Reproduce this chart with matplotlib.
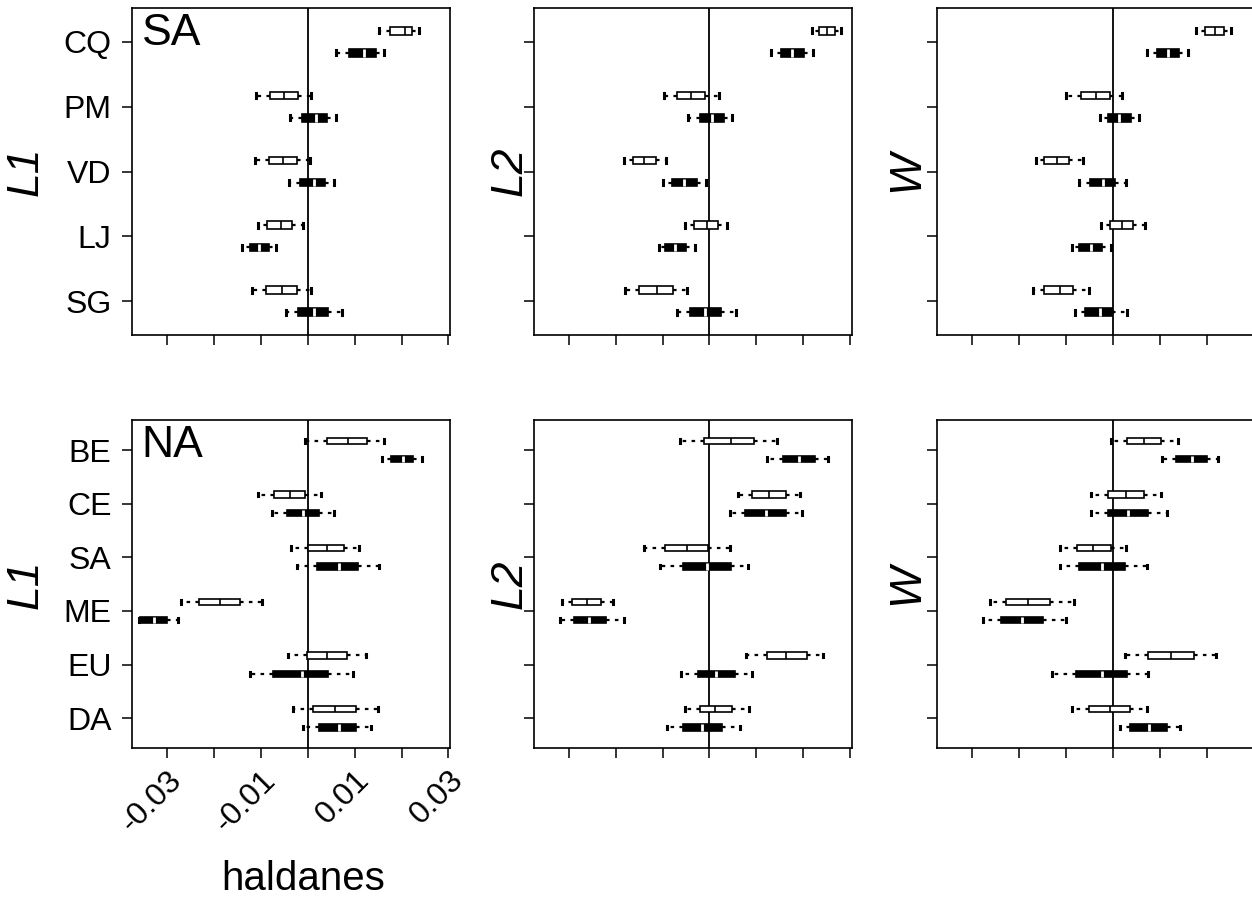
import numpy as np
import matplotlib.pyplot as plt

plt.rcParams['font.family'] = ['Liberation Sans', 'DejaVu Sans']

sa_sites = ["CQ", "PM", "VD", "LJ", "SG"]
na_sites = ["BE", "CE", "SA", "ME", "EU", "DA"]

# per site: lower whisker, Q1, median, Q3, upper whisker (haldanes)
# open = upper (white) box, filled = lower (black) box
sa_l1_open = [[0.0153, 0.0176, 0.0207, 0.0222, 0.0238],
              [-0.0111, -0.0080, -0.0050, -0.0020, 0.0007],
              [-0.0113, -0.0083, -0.0053, -0.0023, 0.0004],
              [-0.0105, -0.0086, -0.0058, -0.0034, -0.0010],
              [-0.0118, -0.0089, -0.0055, -0.0023, 0.0007]]
sa_l1_filled = [[0.0061, 0.0087, 0.0119, 0.0146, 0.0163],
                [-0.0037, -0.0012, 0.0018, 0.0041, 0.0061],
                [-0.0039, -0.0017, 0.0014, 0.0037, 0.0055],
                [-0.0140, -0.0124, -0.0103, -0.0083, -0.0067],
                [-0.0046, -0.0020, 0.0014, 0.0044, 0.0073]]

sa_l2_open = [[0.0218, 0.0234, 0.0251, 0.0268, 0.0281],
              [-0.0096, -0.0069, -0.0039, -0.0010, 0.0021],
              [-0.0182, -0.0163, -0.0139, -0.0113, -0.0092],
              [-0.0051, -0.0032, -0.0005, 0.0018, 0.0038],
              [-0.0181, -0.0150, -0.0112, -0.0078, -0.0048]]
sa_l2_filled = [[0.0131, 0.0152, 0.0177, 0.0202, 0.0220],
                [-0.0046, -0.0021, 0.0006, 0.0032, 0.0048],
                [-0.0098, -0.0079, -0.0055, -0.0026, -0.0008],
                [-0.0108, -0.0094, -0.0073, -0.0049, -0.0031],
                [-0.0069, -0.0041, -0.0009, 0.0025, 0.0057]]

sa_w_open = [[0.0177, 0.0196, 0.0218, 0.0238, 0.0252],
             [-0.0099, -0.0068, -0.0036, -0.0006, 0.0019],
             [-0.0163, -0.0146, -0.0119, -0.0093, -0.0064],
             [-0.0026, -0.0006, 0.0019, 0.0044, 0.0069],
             [-0.0169, -0.0146, -0.0113, -0.0085, -0.0051]]
sa_w_filled = [[0.0074, 0.0095, 0.0118, 0.0142, 0.0161],
               [-0.0028, -0.0009, 0.0014, 0.0039, 0.0057],
               [-0.0071, -0.0048, -0.0021, 0.0004, 0.0029],
               [-0.0087, -0.0071, -0.0046, -0.0022, -0.0004],
               [-0.0081, -0.0059, -0.0028, -0.0001, 0.0031]]

na_l1_open = [[-0.0005, 0.0041, 0.0086, 0.0126, 0.0163],
              [-0.0106, -0.0071, -0.0037, -0.0005, 0.0029],
              [-0.0036, 0.0000, 0.0041, 0.0078, 0.0110],
              [-0.0271, -0.0232, -0.0188, -0.0145, -0.0097],
              [-0.0042, -0.0002, 0.0042, 0.0083, 0.0124],
              [-0.0031, 0.0012, 0.0059, 0.0103, 0.0149]]
na_l1_filled = [[0.0158, 0.0178, 0.0203, 0.0224, 0.0243],
                [-0.0076, -0.0044, -0.0010, 0.0024, 0.0055],
                [-0.0022, 0.0019, 0.0066, 0.0108, 0.0153],
                [-0.0360, -0.0357, -0.0328, -0.0300, -0.0276],
                [-0.0122, -0.0073, -0.0012, 0.0044, 0.0096],
                [-0.0009, 0.0025, 0.0066, 0.0103, 0.0134]]

na_l2_open = [[-0.0062, -0.0011, 0.0045, 0.0096, 0.0145],
              [0.0061, 0.0091, 0.0127, 0.0163, 0.0193],
              [-0.0139, -0.0094, -0.0048, -0.0003, 0.0044],
              [-0.0314, -0.0292, -0.0262, -0.0232, -0.0206],
              [0.0079, 0.0122, 0.0164, 0.0208, 0.0243],
              [-0.0053, -0.0021, 0.0011, 0.0049, 0.0084]]
na_l2_filled = [[0.0123, 0.0156, 0.0191, 0.0225, 0.0252],
                [0.0044, 0.0076, 0.0120, 0.0163, 0.0198],
                [-0.0105, -0.0056, -0.0005, 0.0046, 0.0082],
                [-0.0319, -0.0288, -0.0256, -0.0221, -0.0182],
                [-0.0060, -0.0024, 0.0014, 0.0054, 0.0091],
                [-0.0091, -0.0057, -0.0016, 0.0027, 0.0065]]

na_w_open = [[-0.0003, 0.0031, 0.0066, 0.0102, 0.0139],
             [-0.0046, -0.0009, 0.0029, 0.0066, 0.0102],
             [-0.0112, -0.0076, -0.0041, -0.0004, 0.0029],
             [-0.0262, -0.0228, -0.0180, -0.0133, -0.0082],
             [0.0027, 0.0076, 0.0125, 0.0173, 0.0220],
             [-0.0087, -0.0051, -0.0006, 0.0036, 0.0074]]
na_w_filled = [[0.0106, 0.0134, 0.0168, 0.0201, 0.0225],
               [-0.0046, -0.0010, 0.0033, 0.0075, 0.0116],
               [-0.0113, -0.0071, -0.0022, 0.0027, 0.0074],
               [-0.0276, -0.0239, -0.0194, -0.0149, -0.0100],
               [-0.0130, -0.0078, -0.0023, 0.0031, 0.0076],
               [0.0015, 0.0036, 0.0077, 0.0115, 0.0143]]

x_ticks = [-0.03, -0.02, -0.01, 0.0, 0.01, 0.02, 0.03]
x_ticklabels = ["-0.03", "", "-0.01", "", "0.01", "", "0.03"]


def to_stats(rows):
    return [dict(whislo=r[0], q1=r[1], med=r[2], q3=r[3], whishi=r[4], fliers=[])
            for r in rows]


def draw_panel(ax, open_rows, filled_rows, sites, show_labels):
    n = len(sites)
    pos = np.arange(1, n + 1)
    ax.axvline(0, color='black', lw=1.3, zorder=1)
    common = dict(widths=0.12, orientation='horizontal', patch_artist=True,
                  showfliers=False, capwidths=0.07,
                  whiskerprops=dict(color='black', lw=1.6, linestyle=(0, (1.6, 2.4))),
                  capprops=dict(color='black', lw=2.2),
                  manage_ticks=False, zorder=3)
    ax.bxp(to_stats(open_rows), positions=pos - 0.17,
           boxprops=dict(facecolor='white', edgecolor='black', lw=1.2),
           medianprops=dict(color='black', lw=1.2), **common)
    ax.bxp(to_stats(filled_rows), positions=pos + 0.17,
           boxprops=dict(facecolor='black', edgecolor='black', lw=1.2),
           medianprops=dict(color='white', lw=2.0), **common)
    ax.set_xlim(-0.0374, 0.0304)
    ax.set_ylim(n + 0.52 + (0.04 if n == 6 else 0), 0.48 - (0.04 if n == 6 else 0))
    ax.set_yticks(pos)
    ax.set_xticks(x_ticks)
    ax.tick_params(length=7, width=1.1, direction='out')
    ax.tick_params(axis='y', pad=8)
    for s in ax.spines.values():
        s.set_linewidth(1.2)
    if show_labels:
        ax.set_yticklabels(sites, fontsize=23)
    else:
        ax.set_yticklabels([])


fig = plt.figure(figsize=(12.52, 9.01), dpi=100)
W, H = 1252, 901
col_left = [132.3, 534.0, 937.3]
col_w = 318.0
row_top = [8.0, 420.0]
row_h = [327.0, 328.3]

panels = [
    [(sa_l1_open, sa_l1_filled), (sa_l2_open, sa_l2_filled), (sa_w_open, sa_w_filled)],
    [(na_l1_open, na_l1_filled), (na_l2_open, na_l2_filled), (na_w_open, na_w_filled)],
]
row_sites = [sa_sites, na_sites]
row_names = ["SA", "NA"]
col_names = ["L1", "L2", "W"]
col_label_x = [26, 510, 907]

for r in range(2):
    for c in range(3):
        ax = fig.add_axes([col_left[c] / W, 1 - (row_top[r] + row_h[r]) / H,
                           col_w / W, row_h[r] / H])
        op, fl = panels[r][c]
        draw_panel(ax, op, fl, row_sites[r], c == 0)
        if c == 0:
            ax.text(0.03, 0.985, row_names[r], transform=ax.transAxes,
                    fontsize=32, ha='left', va='top')
        if r == 1 and c == 0:
            ax.set_xticklabels(x_ticklabels, fontsize=23, rotation=45,
                               ha='right', va='top', rotation_mode='anchor')
            ax.tick_params(axis='x', pad=5)
        else:
            ax.set_xticklabels([])
        fig.text(col_label_x[c] / W, 1 - (row_top[r] + row_h[r] / 2) / H,
                 col_names[c], fontsize=32, style='italic', rotation=90,
                 ha='center', va='center')

fig.text(303 / W, 1 - 898 / H, "haldanes", fontsize=29, ha='center', va='bottom')

fig.savefig("out.png", dpi=100)
